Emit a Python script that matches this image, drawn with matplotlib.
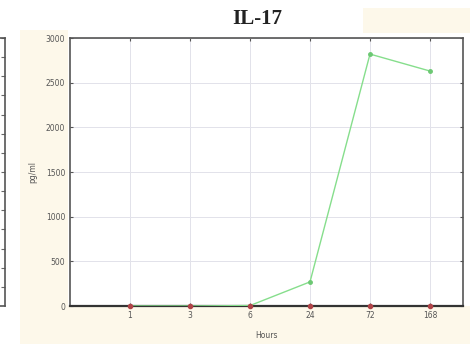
import numpy as np
import matplotlib.pyplot as plt
from matplotlib.patches import Rectangle

# data
hours = ["1", "3", "6", "24", "72", "168"]
il17_green = [0, 0, 5, 270, 2820, 2630]
il17_red = [0, 0, 0, 0, 0, 0]
y_ticks = [0, 500, 1000, 1500, 2000, 2500, 3000]

W, H = 473, 344
cream = "#fdf8ea"

fig = plt.figure(figsize=(W / 100, H / 100), dpi=100)
fig.patch.set_facecolor("white")

# cream background strips of the scanned figure
fig.add_artist(Rectangle((20 / W, 0), 48 / W, 1 - 30 / H, transform=fig.transFigure,
                         facecolor=cream, edgecolor="none", zorder=0))
fig.add_artist(Rectangle((20 / W, 0), 450 / W, 38 / H, transform=fig.transFigure,
                         facecolor=cream, edgecolor="none", zorder=0))
fig.add_artist(Rectangle((363 / W, 1 - 33 / H), 107 / W, 25 / H, transform=fig.transFigure,
                         facecolor=cream, edgecolor="none", zorder=0))

# neighbouring panel, cut off at the left edge
ax0 = fig.add_axes([-0.5, 38 / H, 0.5 + 5 / W, 268 / H])
ax0.set_xticks([])
ax0.set_ylim(0, 14)
ax0.set_yticks(np.arange(1, 15))
ax0.yaxis.tick_right()
ax0.tick_params(axis="y", direction="in", length=3, color="#666666", labelright=False)
for s in ax0.spines.values():
    s.set_color("#555555")
    s.set_linewidth(1.2)

# main panel
ax = fig.add_axes([70 / W, 38 / H, 393 / W, 268 / H])
x = np.arange(1, len(hours) + 1)
ax.plot(x, il17_green, color="#86de8c", lw=1.0, marker="o", ms=2.5,
        mfc="#6cc873", mec="#6cc873", zorder=3)
ax.plot(x, il17_red, lw=0, marker="o", ms=3,
        mfc="#b04448", mec="#b04448", zorder=4, clip_on=False)

ax.set_xlim(0, 6.55)
ax.set_ylim(0, 3000)
ax.set_xticks(x)
ax.set_xticklabels(hours)
ax.set_yticks(y_ticks)
ax.grid(True, color="#e2e2ea", lw=0.7)
ax.tick_params(labelsize=5.5, labelcolor="#555555", color="#555555", length=2,
               direction="in", top=True, right=True)
for s in ax.spines.values():
    s.set_color("#555555")
    s.set_linewidth(1.2)
ax.spines["bottom"].set_color("#333333")
ax.spines["bottom"].set_linewidth(1.6)

ax.set_xlabel("Hours", fontsize=5.5, color="#555555", labelpad=8)
ax.set_ylabel("pg/ml", fontsize=5.5, color="#555555", labelpad=6)
fig.text(257 / W, 1 - 19 / H, "IL-17", ha="center", va="center",
         fontsize=15, fontweight="bold", family="Liberation Serif", color="#222222")

fig.savefig("out.png", dpi=100)
